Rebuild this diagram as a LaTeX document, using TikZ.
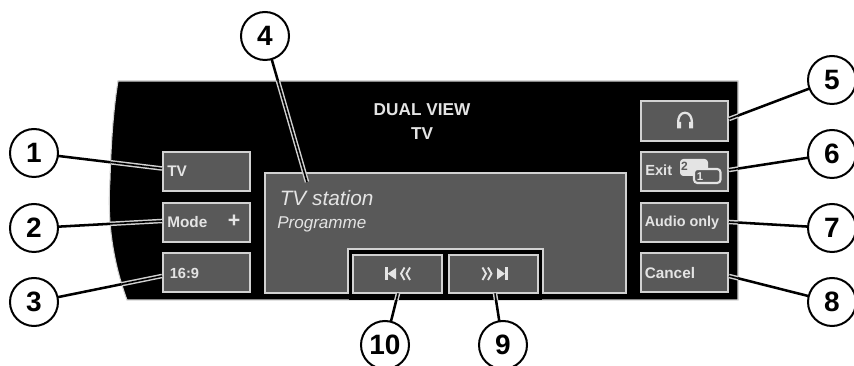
\documentclass[tikz,border=0pt]{standalone}
\usepackage{fontspec}
\setmainfont{Liberation Sans}
\definecolor{btn}{HTML}{595959}
\definecolor{edge}{HTML}{D2D2D2}
\definecolor{ink}{HTML}{E4E4E4}
\begin{document}
\begin{tikzpicture}[x=0.75pt,y=-0.75pt,
  callout/.style={circle,draw=black,line width=1.5pt,fill=white,minimum size=36pt,inner sep=0pt,outer sep=0pt,font=\fontsize{21}{21}\selectfont\bfseries},
  panelbtn/.style={draw=edge,line width=1.5pt,fill=btn,anchor=north west,inner sep=0pt,outer sep=0pt,minimum width=65.5pt,minimum height=29.25pt},
  btxt/.style={text=ink,font=\fontsize{11.5}{13}\selectfont\bfseries,anchor=west,inner sep=0pt},
  leader/.style={draw=black,line width=1.9pt},
  halo/.style={draw=edge,line width=3.4pt},
  core/.style={draw=black,line width=1.2pt},
  chev/.style={draw=ink,line width=1.4pt,line join=miter}]
\useasboundingbox (0,0) rectangle (854,366);
\def\panelpath{(118,81) -- (738,81) -- (738,300) -- (127,300)
  .. controls (113,262) and (107,222) .. (110,180) .. controls (111,145) and (113,112) .. (118,81) -- cycle}
% panel
\path[fill=black,draw=edge,line width=0.8pt] \panelpath;
% buttons
\node[panelbtn] (tv) at (162.5,152.5) {};
\node[panelbtn] (mode) at (162.5,203) {};
\node[panelbtn] (ratio) at (162.5,253.5) {};
\node[panelbtn,minimum height=30pt] (head) at (640.7,101) {};
\node[panelbtn] (exit) at (640.7,152.5) {};
\node[panelbtn] (audio) at (640.7,203) {};
\node[panelbtn] (cancel) at (640.7,253.5) {};
% display with notch
\path[draw=edge,line width=1.5pt,fill=btn] (264.5,173.5) -- (626,173.5) -- (626,293) -- (543,293) -- (543,249) -- (348,249) -- (348,293) -- (264.5,293) -- cycle;
\path[fill=black] (349,250) rectangle (542,300);
\node[panelbtn,minimum width=66.5pt,minimum height=28.5pt] (prev) at (353,255) {};
\node[panelbtn,minimum width=66.5pt,minimum height=28.5pt] (next) at (449,255) {};
\coordinate (disp) at (307,182);
% texts
\node[text=ink,font=\fontsize{12.9}{18}\selectfont\bfseries,align=center] (title) at (422,122) {DUAL VIEW\\TV};
\node[btxt] (ttv) at (167,171) {TV};
\node[btxt] (tmode) at (167,222) {Mode};
\node[btxt,font=\fontsize{16}{16}\selectfont\bfseries] (tplus) at (227.5,221.5) {+};
\node[btxt,font=\fontsize{11}{13}\selectfont\bfseries] (tratio) at (169.5,273) {16:9};
\node[btxt,font=\fontsize{11}{13}\selectfont\bfseries] (texit) at (645,170.5) {Exit};
\node[btxt,font=\fontsize{10.8}{13}\selectfont\bfseries] (taudio) at (644.5,223) {Audio only};
\node[btxt] (tcancel) at (644.5,273) {Cancel};
\node[text=ink,font=\fontsize{15.6}{15.6}\selectfont\itshape,anchor=west,inner sep=0pt] (station) at (279.5,198) {TV station};
\node[text=ink,font=\fontsize{12.8}{12.8}\selectfont\itshape,anchor=west,inner sep=0pt] (prog) at (277,224) {Programme};
% headphones icon
\draw[ink,line width=1.7pt] (678.5,124) .. controls (676,109) and (694,109) .. (691.5,124);
\fill[ink] (677,122) rectangle (681,128.5) (689,122) rectangle (693,128.5);
% exit icon
\fill[ink,rounded corners=2.5pt] (680,159) rectangle (708,176);
\node[text=btn,font=\fontsize{9}{9}\selectfont\bfseries,inner sep=0pt] (two) at (684.5,166) {2};
\draw[ink,line width=1.6pt,fill=btn,rounded corners=2.5pt] (694,169) rectangle (720.5,183);
\node[text=ink,font=\fontsize{8.5}{8.5}\selectfont\bfseries,inner sep=0pt] (one) at (700,176.5) {1};
% prev icon
\fill[ink] (385,267.5) rectangle (387.5,280);
\fill[ink] (387.5,273.7) -- (396,268) -- (396,279.5) -- cycle;
\draw[chev] (404.5,267.5) -- (401,273.7) -- (404.5,280) (410,267.5) -- (406.5,273.7) -- (410,280);
% next icon
\draw[chev] (482.5,267.5) -- (486,273.7) -- (482.5,280) (488,267.5) -- (491.5,273.7) -- (488,280);
\fill[ink] (505,273.7) -- (497,268) -- (497,279.5) -- cycle;
\fill[ink] (505,267.5) rectangle (507.5,280);
% callouts
\node[callout] (c1) at (34,153) {1};
\node[callout] (c2) at (34,228) {2};
\node[callout] (c3) at (34,302) {3};
\node[callout] (c4) at (265,36) {4};
\node[callout] (c5) at (832,80) {5};
\node[callout] (c6) at (832,154) {6};
\node[callout] (c7) at (832,228) {7};
\node[callout] (c8) at (832,302) {8};
\node[callout] (c10) at (385,345) {10};
\node[callout] (c9) at (503,345) {9};
% leader ends
\coordinate (e1) at (162,168.5);
\coordinate (e2) at (162,221);
\coordinate (e3) at (162,276);
\coordinate (e5) at (729,119);
\coordinate (e6) at (729,170);
\coordinate (e7) at (729,222);
\coordinate (e8) at (729,276);
\coordinate (e9) at (495,293.5);
\coordinate (e10) at (398,293.5);
% leaders: black line, with a light halo where it crosses the panel
\draw[leader] (c1) -- (e1);
\draw[leader] (c2) -- (e2);
\draw[leader] (c3) -- (e3);
\draw[leader] (c4) -- (disp);
\draw[leader] (c5) -- (e5);
\draw[leader] (c6) -- (e6);
\draw[leader] (c7) -- (e7);
\draw[leader] (c8) -- (e8);
\draw[leader] (c9) -- (e9);
\draw[leader] (c10) -- (e10);
\begin{scope}
\clip \panelpath;
\draw[halo] (c1) -- (e1);
\draw[halo] (c2) -- (e2);
\draw[halo] (c3) -- (e3);
\draw[halo] (c4) -- (disp);
\draw[halo] (c5) -- (e5);
\draw[halo] (c6) -- (e6);
\draw[halo] (c7) -- (e7);
\draw[halo] (c8) -- (e8);
\draw[halo] (c9) -- (e9);
\draw[halo] (c10) -- (e10);
\draw[core] (c1) -- (e1);
\draw[core] (c2) -- (e2);
\draw[core] (c3) -- (e3);
\draw[core] (c4) -- (disp);
\draw[core] (c5) -- (e5);
\draw[core] (c6) -- (e6);
\draw[core] (c7) -- (e7);
\draw[core] (c8) -- (e8);
\draw[core] (c9) -- (e9);
\draw[core] (c10) -- (e10);
\end{scope}
\end{tikzpicture}
\end{document}
